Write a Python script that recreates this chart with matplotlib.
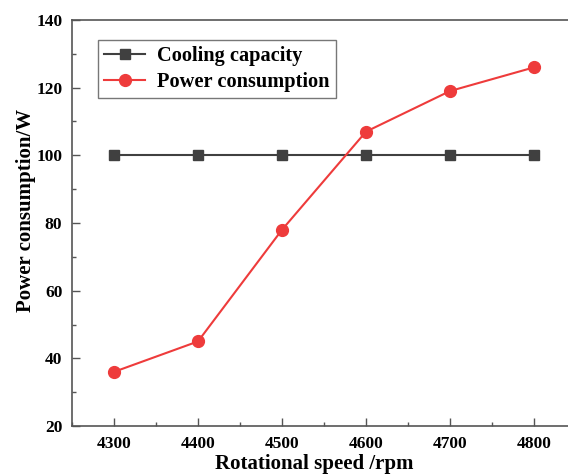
import matplotlib.pyplot as plt
from matplotlib.ticker import MultipleLocator

# rotational speed (rpm) and the two curves
speed = [4300, 4400, 4500, 4600, 4700, 4800]
cooling = [100, 100, 100, 100, 100, 100]
power = [36, 45, 78, 107, 119, 126]

plt.rcParams['font.family'] = ['Liberation Serif', 'DejaVu Serif']
plt.rcParams['font.weight'] = 'bold'

fig = plt.figure(figsize=(5.68, 4.74), dpi=100)
# axes runs slightly past the right edge of the figure
ax = fig.add_axes([72 / 568, 48 / 474, 504 / 568, 406 / 474])

ax.plot(speed, cooling, '-s', color='#404040', lw=1.5, ms=6.5, label='Cooling capacity')
ax.plot(speed, power, '-o', color='#ee3b3b', lw=1.5, ms=8.5, label='Power consumption')

ax.set_xlim(4250, 4850)
ax.set_ylim(20, 140)
ax.xaxis.set_major_locator(MultipleLocator(100))
ax.xaxis.set_minor_locator(MultipleLocator(50))
ax.yaxis.set_major_locator(MultipleLocator(20))
ax.yaxis.set_minor_locator(MultipleLocator(10))
ax.tick_params(which='both', direction='in', top=False, right=False,
               color='#555555', labelsize=12.5)
ax.tick_params(which='major', length=6, width=1)
ax.tick_params(which='minor', length=3, width=1)
for lab in ax.get_xticklabels() + ax.get_yticklabels():
    lab.set_fontweight('bold')
ax.tick_params(axis='x', pad=7)
ax.tick_params(axis='y', pad=7)
for sp in ax.spines.values():
    sp.set_color('#555555')
    sp.set_linewidth(1.2)

ax.set_xlabel('Rotational speed /rpm', fontsize=15, fontweight='bold', labelpad=0)
ax.set_ylabel('Power consumption/W', fontsize=15, fontweight='bold', labelpad=0)
ax.xaxis.set_label_coords(0.48, -0.07, transform=ax.transAxes)
ax.xaxis.label.set_verticalalignment('top')
ax.yaxis.label.set_y(0.532)

leg = ax.legend(loc='upper left', bbox_to_anchor=(26 / 504, 1 - 20 / 406),
                prop={'size': 14.7, 'weight': 'bold'}, frameon=True, fancybox=False,
                handlelength=2.0, borderpad=0.3, labelspacing=0.3, handletextpad=0.6,
                borderaxespad=0)
leg.get_frame().set_edgecolor('#555555')
leg.get_frame().set_linewidth(1.0)

fig.savefig('out.png', dpi=100)
